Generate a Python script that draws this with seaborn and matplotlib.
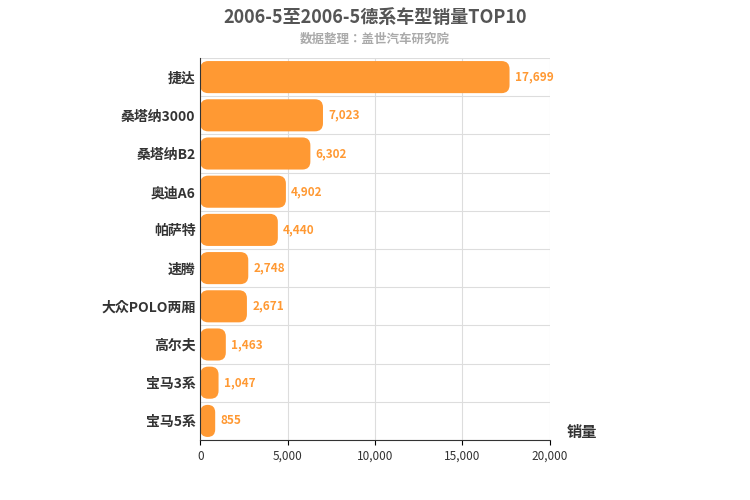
import matplotlib
matplotlib.use("Agg")
import matplotlib.pyplot as plt
import seaborn as sns
import pandas as pd
from matplotlib.patches import FancyBboxPatch

categories = ["捷达", "桑塔纳3000", "桑塔纳B2", "奥迪A6", "帕萨特", "速腾", "大众POLO两厢", "高尔夫", "宝马3系", "宝马5系"]
values = [17699, 7023, 6302, 4902, 4440, 2748, 2671, 1463, 1047, 855]
xticks = [0, 5000, 10000, 15000, 20000]

plt.rcParams["font.family"] = ["Noto Sans CJK SC", "Noto Sans CJK JP", "Noto Sans CJK TC", "DejaVu Sans"]
df = pd.DataFrame({"cat": categories, "val": values})
fig = plt.figure(figsize=(7.5, 5), dpi=100)
ax = fig.add_axes([0.267, 0.12, 0.466, 0.764])
sns.barplot(data=df, x="val", y="cat", color="#ff9933", width=0.84, ax=ax, saturation=1)

for p in list(ax.patches):
    x, y, w, h = p.get_x(), p.get_y(), p.get_width(), p.get_height()
    p.remove()
    r = min(457, w / 2)
    ax.add_patch(FancyBboxPatch((x, y), w, h, boxstyle=f"round,pad=0,rounding_size={r}",
                                mutation_aspect=0.21 / 457, fc="#ff9933", ec="none", zorder=2))
for i, v in enumerate(values):
    ax.text(v + 300, i, f"{v:,}", va="center", ha="left", color="#ff9933", fontsize=8.5, fontweight="bold")

ax.set_xlim(0, 20000)
ax.set_xticks(xticks)
ax.set_xticklabels([f"{t:,}" for t in xticks], fontsize=8.5, color="#333")
ax.set_ylim(9.5, -0.5)
ax.grid(True, axis="x", color="#dddddd", lw=0.8)
ax.set_axisbelow(True)
for i in range(len(categories) + 1):
    ax.axhline(i - 0.5, color="#dddddd", lw=0.8, zorder=0)
for s in ["top", "right"]:
    ax.spines[s].set_visible(False)
ax.spines["left"].set_color("#333")
ax.spines["bottom"].set_color("#333")
ax.tick_params(axis="y", length=0, labelsize=10)
for t in ax.get_yticklabels():
    t.set_fontweight("bold"); t.set_color("#333")
ax.set_ylabel("")
ax.set_xlabel("")
fig.text(0.755, 0.125, "销量", fontsize=11, fontweight="bold", color="#333")
fig.text(0.5, 0.965, "2006-5至2006-5德系车型销量TOP10", ha="center", va="center", fontsize=13, fontweight="bold", color="#555")
fig.text(0.5, 0.922, "数据整理：盖世汽车研究院", ha="center", va="center", fontsize=9, fontweight="bold", color="#aaaaaa")
fig.savefig("out.png", dpi=100)
